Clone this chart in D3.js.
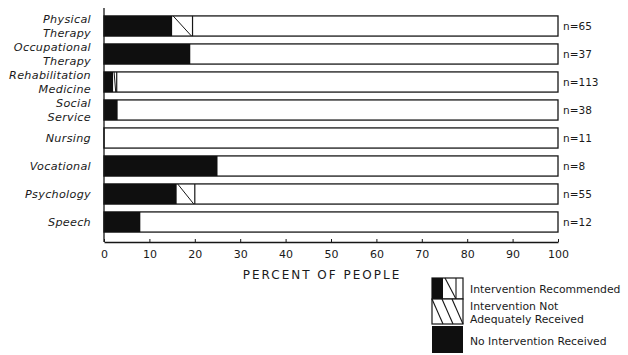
<!DOCTYPE html>
<html>
<head>
<meta charset="utf-8">
<script src="https://cdn.jsdelivr.net/npm/d3@7"></script>
<style>
  html, body { margin: 0; padding: 0; background: #fff; }
  svg { display: block; }
  text { font-family: "DejaVu Sans", "Liberation Sans", sans-serif; fill: #1a1a1a; }
</style>
</head>
<body>
<svg id="chart" width="628" height="355"></svg>
<script>
// Services and their sample sizes
const services = [
  ["Physical", "Therapy"],
  ["Occupational", "Therapy"],
  ["Rehabilitation", "Medicine"],
  ["Social", "Service"],
  ["Nursing"],
  ["Vocational"],
  ["Psychology"],
  ["Speech"]
];
const sampleSizes = [65, 37, 113, 38, 11, 8, 55, 12];

// Percent of people with no intervention received (solid)
const noIntervention = [15, 19, 2, 3, 0, 25, 16, 8];
// Percent with intervention not adequately received (hatched)
const notAdequate = [4.5, 0, 0.8, 0, 0, 0, 4, 0];

const xTicks = [0, 10, 20, 30, 40, 50, 60, 70, 80, 90, 100];
const legendItems = [
  ["Intervention Recommended"],
  ["Intervention Not", "Adequately Received"],
  ["No Intervention Received"]
];

const svg = d3.select("#chart");
const x = d3.scaleLinear().domain([0, 100]).range([104, 558]);
const y = d3.scaleBand().domain(d3.range(services.length)).range([12, 236]).paddingInner(0.28).paddingOuter(0.14);

const ink = "#161616";

// Bars
const rows = svg.append("g").selectAll("g").data(services).join("g");
rows.append("rect")
  .attr("x", x(0)).attr("y", (d, i) => y(i))
  .attr("width", x(100) - x(0)).attr("height", y.bandwidth())
  .attr("fill", "#fff").attr("stroke", ink).attr("stroke-width", 1.3);
rows.append("rect")
  .attr("x", x(0)).attr("y", (d, i) => y(i))
  .attr("width", (d, i) => x(noIntervention[i]) - x(0)).attr("height", y.bandwidth())
  .attr("fill", "#0f0f0f");
rows.filter((d, i) => notAdequate[i] > 0).each(function(d) {
  const i = services.indexOf(d);
  const g = d3.select(this);
  const x0 = x(noIntervention[i]), x1 = x(noIntervention[i] + notAdequate[i]);
  const y0 = y(i), y1 = y(i) + y.bandwidth();
  g.append("line").attr("x1", x0 + 1).attr("y1", y0).attr("x2", x1 - 1).attr("y2", y1)
    .attr("stroke", ink).attr("stroke-width", 1);
  g.append("line").attr("x1", x1).attr("y1", y0).attr("x2", x1).attr("y2", y1)
    .attr("stroke", ink).attr("stroke-width", 1.2);
});

// Category labels
const labels = svg.append("g").selectAll("text").data(services).join("text")
  .attr("x", 91)
  .attr("y", (d, i) => y(i) + y.bandwidth() / 2)
  .attr("text-anchor", "end")
  .attr("font-size", 11.2)
  .attr("font-style", "italic")
  .attr("letter-spacing", 0.3);
labels.selectAll("tspan").data(d => d.map((t, k) => ({ t, k, n: d.length }))).join("tspan")
  .attr("x", 91)
  .attr("dy", d => d.k === 0 ? (d.n === 1 ? "0.35em" : "-0.25em") : "1.2em")
  .text(d => d.t);

// Sample size labels
svg.append("g").selectAll("text").data(sampleSizes).join("text")
  .attr("x", 563)
  .attr("y", (d, i) => y(i) + y.bandwidth() / 2)
  .attr("dy", "0.35em")
  .attr("font-size", 10.5)
  .text(d => "n=" + d);

// Axes
svg.append("line")
  .attr("x1", x(0)).attr("x2", x(0)).attr("y1", 8).attr("y2", 242)
  .attr("stroke", ink).attr("stroke-width", 1.3);
const xAxis = svg.append("g").attr("transform", "translate(0,242)")
  .call(d3.axisBottom(x).tickValues(xTicks).tickSizeInner(-3).tickSizeOuter(0).tickPadding(8));
xAxis.select(".domain").attr("stroke", ink).attr("stroke-width", 1.3);
xAxis.selectAll(".tick line").attr("stroke", ink);
xAxis.selectAll(".tick text").attr("font-size", 11).attr("fill", "#1a1a1a")
  .style("font-family", "\"DejaVu Sans\", sans-serif");

svg.append("text")
  .attr("x", 322).attr("y", 279)
  .attr("text-anchor", "middle")
  .attr("font-size", 12)
  .attr("letter-spacing", 2)
  .text("PERCENT OF PEOPLE");

// Legend
const lg = svg.append("g");
const bx = 432, bw = 31, bh = 21;
const boxY = [278, 299, 326];
// box 1: solid part followed by one stroke
lg.append("rect").attr("x", bx).attr("y", boxY[0]).attr("width", bw).attr("height", bh)
  .attr("fill", "#fff").attr("stroke", ink).attr("stroke-width", 1.2);
lg.append("rect").attr("x", bx).attr("y", boxY[0]).attr("width", 11).attr("height", bh).attr("fill", "#0f0f0f");
lg.append("line").attr("x1", bx + 13).attr("y1", boxY[0]).attr("x2", bx + 24).attr("y2", boxY[0] + bh)
  .attr("stroke", ink).attr("stroke-width", 1.1);
lg.append("line").attr("x1", bx + 24).attr("y1", boxY[0]).attr("x2", bx + 24).attr("y2", boxY[0] + bh)
  .attr("stroke", ink).attr("stroke-width", 1.1);
// box 2: hatching
lg.append("rect").attr("x", bx).attr("y", boxY[1]).attr("width", bw).attr("height", 25)
  .attr("fill", "#fff").attr("stroke", ink).attr("stroke-width", 1.2);
[0, 10, 20].forEach(o => {
  lg.append("line").attr("x1", bx + o).attr("y1", boxY[1]).attr("x2", bx + o + 11).attr("y2", boxY[1] + 25)
    .attr("stroke", ink).attr("stroke-width", 1.1);
});
// box 3: solid
lg.append("rect").attr("x", bx).attr("y", boxY[2]).attr("width", bw).attr("height", 27)
  .attr("fill", "#0f0f0f");

const lt = [[293], [310, 323], [345]];
legendItems.forEach((lines, i) => {
  lines.forEach((t, k) => {
    lg.append("text").attr("x", 470).attr("y", lt[i][k]).attr("font-size", 10.8).text(t);
  });
});
</script>
</body>
</html>
